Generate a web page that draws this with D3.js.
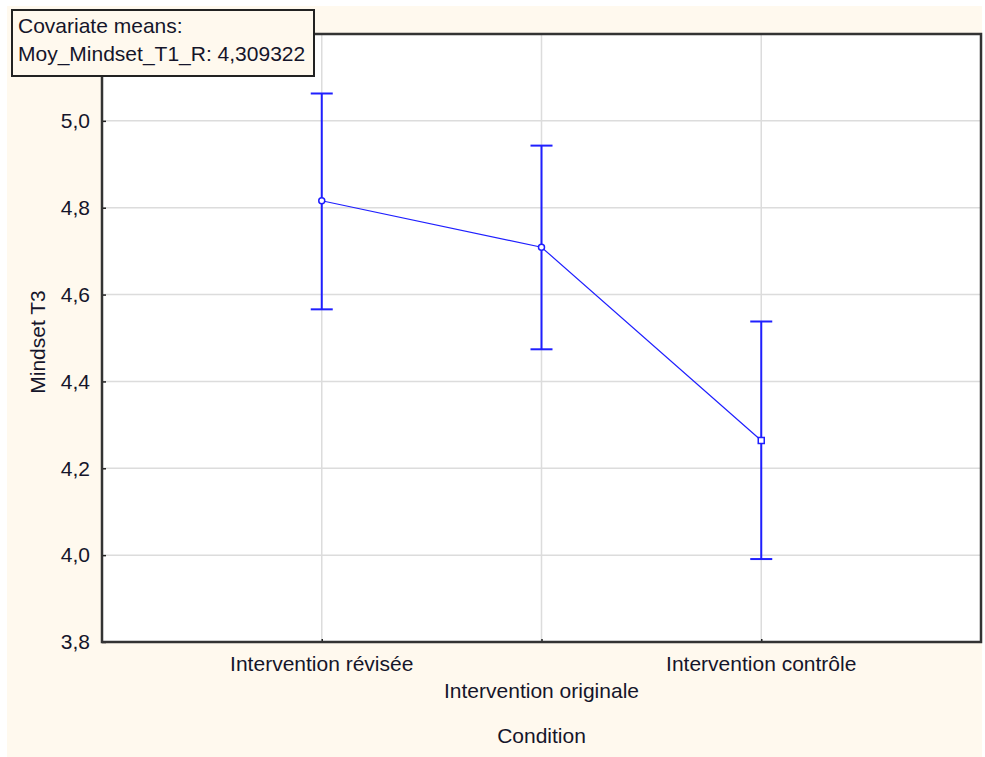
<!DOCTYPE html>
<html>
<head>
<meta charset="utf-8">
<script src="https://cdn.jsdelivr.net/npm/d3@7"></script>
<style>
html,body{margin:0;padding:0;background:#fff;}
text{font-family:"Liberation Sans",Arial,sans-serif;}
</style>
</head>
<body>
<svg id="chart" width="985" height="757"></svg>
<script>
const categories = ["Intervention révisée", "Intervention originale", "Intervention contrôle"];
const means = [4.816, 4.709, 4.264];
const upper = [5.063, 4.943, 4.538];
const lower = [4.566, 4.474, 3.991];
const yTicks = [3.8, 4.0, 4.2, 4.4, 4.6, 4.8, 5.0];
const legendLines = ["Covariate means:", "Moy_Mindset_T1_R: 4,309322"];
const xTitle = "Condition";
const yTitle = "Mindset T3";

const svg = d3.select("#chart");
const plot = {left: 102, right: 981, top: 34, bottom: 642};
const textColor = "#15152a";
const blue = "#1f1fff";
const fs = 21;

svg.append("rect").attr("x", 7).attr("y", 6).attr("width", 975).attr("height", 751).attr("fill", "#fff9ee");
svg.append("rect").attr("x", plot.left).attr("y", plot.top)
  .attr("width", plot.right - plot.left).attr("height", plot.bottom - plot.top).attr("fill", "#fff");

const x = d3.scaleLinear().domain([0, categories.length + 1]).range([plot.left, plot.right]);
const y = d3.scaleLinear().domain([3.8, 5.2]).range([plot.bottom, plot.top]);

// gridlines
const g = svg.append("g");
g.selectAll("line.hg").data(yTicks.slice(1)).join("line")
  .attr("x1", plot.left).attr("x2", plot.right)
  .attr("y1", d => y(d)).attr("y2", d => y(d))
  .attr("stroke", "#dcdcdc").attr("stroke-width", 1.5);
g.selectAll("line.vg").data(categories).join("line")
  .attr("x1", (d, i) => x(i + 1)).attr("x2", (d, i) => x(i + 1))
  .attr("y1", plot.top).attr("y2", plot.bottom)
  .attr("stroke", "#dcdcdc").attr("stroke-width", 1.5);

// y axis
const yAxis = d3.axisLeft(y).tickValues(yTicks).tickSize(-4).tickPadding(12)
  .tickFormat(d => d3.format(".1f")(d).replace(".", ","));
const ya = svg.append("g").attr("transform", `translate(${plot.left},0)`).call(yAxis);
ya.select(".domain").remove();
ya.selectAll(".tick line").attr("stroke", "#222").attr("stroke-width", 1.5);
ya.selectAll(".tick text").attr("font-size", fs).attr("fill", textColor)
  .attr("font-family", "Liberation Sans, Arial, sans-serif");

// x axis ticks
const xAxis = d3.axisBottom(x).tickValues(categories.map((d, i) => i + 1)).tickSize(-3).tickFormat("");
const xa = svg.append("g").attr("transform", `translate(0,${plot.bottom})`).call(xAxis);
xa.select(".domain").remove();
xa.selectAll(".tick line").attr("stroke", "#222").attr("stroke-width", 1.5);

// category labels (staggered)
svg.selectAll("text.cat").data(categories).join("text")
  .attr("x", (d, i) => x(i + 1))
  .attr("y", (d, i) => i % 2 === 1 ? 698 : 671)
  .attr("text-anchor", "middle").attr("font-size", fs).attr("fill", textColor)
  .text(d => d);

// frame
svg.append("rect").attr("x", plot.left).attr("y", plot.top)
  .attr("width", plot.right - plot.left).attr("height", plot.bottom - plot.top)
  .attr("fill", "none").attr("stroke", "#333").attr("stroke-width", 2.5);

// titles
svg.append("text").attr("x", x(2)).attr("y", 743).attr("text-anchor", "middle")
  .attr("font-size", fs).attr("fill", textColor).text(xTitle);
svg.append("text").attr("transform", `translate(45,${(plot.top + plot.bottom) / 2 + 4}) rotate(-90)`)
  .attr("text-anchor", "middle").attr("font-size", fs).attr("fill", textColor).text(yTitle);

// error bars
const data = categories.map((c, i) => ({c, i, m: means[i], hi: upper[i], lo: lower[i]}));
const eb = svg.append("g").attr("stroke", blue).attr("stroke-width", 2);
eb.selectAll("line.v").data(data).join("line")
  .attr("x1", d => x(d.i + 1)).attr("x2", d => x(d.i + 1))
  .attr("y1", d => y(d.hi)).attr("y2", d => y(d.lo));
eb.selectAll("line.t").data(data).join("line")
  .attr("x1", d => x(d.i + 1) - 11).attr("x2", d => x(d.i + 1) + 11)
  .attr("y1", d => y(d.hi)).attr("y2", d => y(d.hi));
eb.selectAll("line.b").data(data).join("line")
  .attr("x1", d => x(d.i + 1) - 11).attr("x2", d => x(d.i + 1) + 11)
  .attr("y1", d => y(d.lo)).attr("y2", d => y(d.lo));

// mean line
svg.append("path").datum(data)
  .attr("d", d3.line().x(d => x(d.i + 1)).y(d => y(d.m)))
  .attr("fill", "none").attr("stroke", blue).attr("stroke-width", 1.2);

// markers
data.forEach(d => {
  if (d.i < 2) {
    svg.append("circle").attr("cx", x(d.i + 1)).attr("cy", y(d.m)).attr("r", 3)
      .attr("fill", "#fff").attr("stroke", blue).attr("stroke-width", 1.5);
  } else {
    svg.append("rect").attr("x", x(d.i + 1) - 3).attr("y", y(d.m) - 3)
      .attr("width", 6).attr("height", 6)
      .attr("fill", "#fff").attr("stroke", blue).attr("stroke-width", 1.5);
  }
});

// legend box
svg.append("rect").attr("x", 12).attr("y", 10).attr("width", 302).attr("height", 66)
  .attr("fill", "#fff9ee").attr("stroke", "#222").attr("stroke-width", 2);
svg.selectAll("text.leg").data(legendLines).join("text")
  .attr("x", 18).attr("y", (d, i) => 33 + i * 28)
  .attr("font-size", fs).attr("fill", textColor).text(d => d);
</script>
</body>
</html>
